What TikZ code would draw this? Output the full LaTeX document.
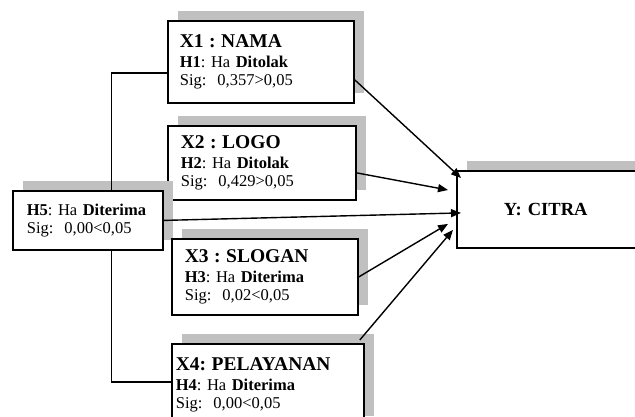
\documentclass[tikz,border=0pt]{standalone}
\usepackage{fontspec}
\setmainfont{Liberation Serif}
\usetikzlibrary{arrows.meta,shadows}
\definecolor{shadegray}{RGB}{192,192,192}
\frenchspacing

\newcommand{\vtitle}[1]{{\fontsize{19.5}{19.5}\selectfont\bfseries #1}}

\tikzset{
  varbox/.style = {draw, line width=1.8pt, fill=white, anchor=north west, align=left,
    inner xsep=12pt, font=\frenchspacing\fontsize{16.5}{18}\selectfont,
    drop shadow={shadow xshift=10pt, shadow yshift=10pt, fill=shadegray, opacity=1}},
  link/.style = {-{Triangle[length=10pt,width=8pt]}, line width=1.4pt},
  rail/.style = {line width=1.5pt}
}

\begin{document}
\begin{tikzpicture}[x=1pt, y=-1pt]
  \useasboundingbox (0,0) rectangle (635,416);
  \node (x1) [varbox, text width=162pt, minimum height=82pt] at (167,20)
    {\vtitle{X1 : NAMA}\\[2pt] \textbf{H1}: Ha \textbf{Ditolak}\\ Sig:\ \ 0,357>0,05};
  \node (x2) [varbox, inner xsep=13pt, text width=162pt, minimum height=74pt] at (167,125)
    {\vtitle{X2 : LOGO}\\[2pt] \textbf{H2}: Ha \textbf{Ditolak}\\ Sig:\ \ 0,429>0,05};
  \node (h5) [varbox, inner xsep=14pt, text width=122pt, minimum height=59pt] at (12,190)
    {\textbf{H5}: Ha \textbf{Diterima}\\ Sig:\ \ 0,00<0,05};
  \node (x3) [varbox, inner xsep=13pt, text width=160pt, minimum height=76pt] at (171,238)
    {\vtitle{X3 : SLOGAN}\\[2pt] \textbf{H3}: Ha \textbf{Diterima}\\ Sig:\ \ 0,02<0,05};
  \node (x4) [varbox, inner xsep=4pt, text width=184pt, minimum height=82pt] at (171,343)
    {\vtitle{X4: PELAYANAN}\\[2pt] \textbf{H4}: Ha \textbf{Diterima}\\ Sig:\ \ 0,00<0,05};
  \node (y) [varbox, inner xsep=47pt, text width=200pt, minimum height=77pt,
    font=\fontsize{18.5}{18.5}\selectfont\bfseries] at (456,170) {Y: CITRA};

  % hubungan simultan
  \draw[rail] ([yshift=-11pt]x1.west) -| ([xshift=23.5pt]h5.north);
  \draw[rail] ([xshift=23.5pt]h5.south) |- ([yshift=3pt]x4.west);

  % pengaruh ke Y
  \draw[link] ([yshift=-18pt]x1.east) -- ([xshift=5pt,yshift=-8pt]y.north west);
  \draw[link] ([yshift=-10pt]x2.east) -- ([xshift=-8pt,yshift=-20pt]y.north west);
  \draw[link] (h5.east) -- ([xshift=5pt,yshift=-3.5pt]y.west);
  \draw[link] (x3.east) -- ([xshift=-8pt,yshift=-14.5pt]y.west);
  \draw[link] ([xshift=-5pt,yshift=3pt]x4.north east) -- ([xshift=-3pt,yshift=-20.5pt]y.west);
\end{tikzpicture}
\end{document}
